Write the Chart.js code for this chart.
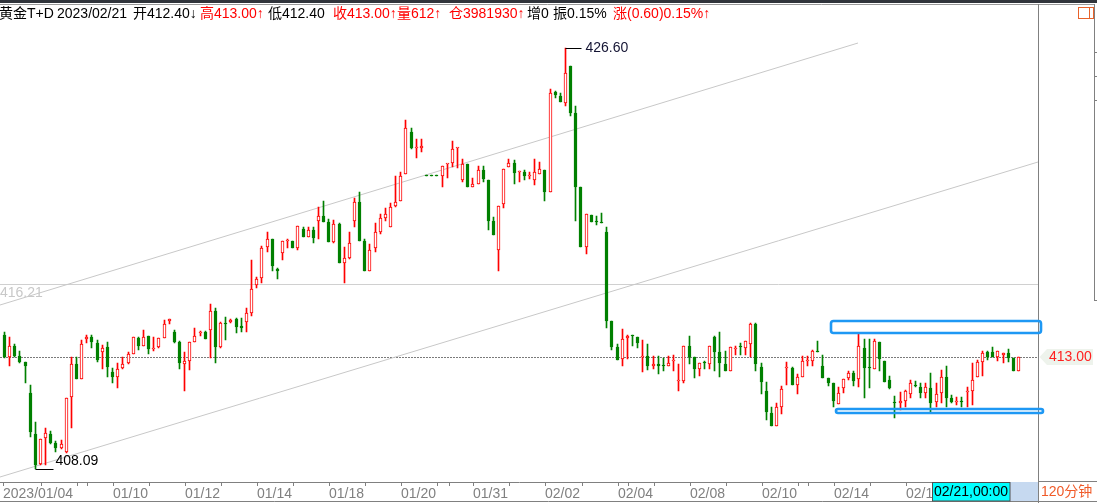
<!DOCTYPE html>
<html><head><meta charset="utf-8">
<script src="https://cdn.jsdelivr.net/npm/chart.js@4.4.1/dist/chart.umd.min.js"></script>
<style>
html,body{margin:0;padding:0;background:#fff;overflow:hidden}
canvas{display:block}
</style></head><body>
<canvas id="c" width="1097" height="503"></canvas>
<script>
// ---- data (120-minute bars, 黄金T+D) ----
const opens = [
413.99,413.01,413.51,413.07,412.80,411.43,409.64,408.31,409.45,409.64,
409.23,409.01,408.86,411.25,412.70,412.04,413.80,413.91,413.65,413.23,
413.45,412.35,412.13,412.53,412.75,413.14,413.84,413.52,413.95,413.39,
413.47,413.84,414.62,414.11,413.69,412.70,412.86,413.67,414.06,414.11,
414.21,415.03,413.46,414.50,414.55,414.69,414.38,414.55,414.94,416.19,
416.48,417.87,418.21,416.89,417.58,418.11,418.12,417.83,418.64,418.31,
418.60,419.01,419.22,418.96,418.09,418.87,417.14,417.39,419.01,419.82,
418.12,416.82,417.80,418.53,419.12,418.72,419.66,419.89,421.05,422.90,
422.22,422.22,420.98,420.98,420.98,420.99,421.49,421.54,422.20,420.80,
421.49,420.51,420.63,421.24,420.80,419.01,417.73,419.73,421.39,421.54,
421.14,421.14,420.99,420.80,421.07,421.24,420.29,424.66,424.51,424.20,
425.81,423.73,420.51,417.84,419.26,419.00,418.90,418.50,414.60,413.45,
412.92,413.84,413.95,413.89,413.03,413.07,412.64,412.70,412.63,412.64,
412.84,411.96,411.98,413.51,413.01,412.48,412.75,412.70,413.89,413.23,
412.70,412.42,413.36,413.45,413.40,413.58,414.47,412.57,411.53,410.55,
410.00,410.81,412.52,412.53,411.79,412.16,412.84,412.86,413.29,412.63,
412.09,411.89,410.94,411.65,412.09,412.31,412.04,413.40,412.53,412.49,
413.69,412.86,412.01,410.99,410.99,411.09,411.38,411.76,411.72,411.43,
411.65,411.03,411.43,412.13,411.23,411.05,411.06,411.49,411.54,412.16,
412.82,413.23,413.23,413.01,413.11,413.18,412.96,412.40];
const highs = [
414.13,413.91,413.59,413.29,412.80,411.79,410.18,409.40,409.91,409.77,
409.34,409.37,411.23,413.04,413.01,413.77,413.99,413.99,413.77,413.55,
413.69,412.53,412.75,413.01,413.25,413.91,413.91,414.21,413.95,413.91,
413.84,414.65,414.71,414.21,413.74,413.23,413.69,414.31,414.16,414.16,
415.34,415.16,414.55,414.79,414.69,414.75,414.72,415.16,417.29,416.55,
417.90,418.53,418.21,416.93,418.12,418.21,418.12,418.78,418.75,418.72,
418.72,419.60,419.88,419.07,419.04,418.90,417.87,418.53,420.00,420.26,
418.21,417.98,418.90,419.31,419.58,419.80,420.99,421.14,423.44,423.07,
422.60,422.60,420.98,420.98,420.98,421.42,421.50,422.52,422.22,421.73,
421.49,420.88,421.42,421.42,420.80,419.19,419.67,421.27,421.73,421.68,
421.21,421.24,421.14,421.73,421.61,421.24,424.79,424.71,424.64,426.60,
425.81,424.06,420.51,419.29,419.26,419.23,419.34,418.74,414.60,413.59,
414.25,413.99,413.99,413.89,413.77,413.59,413.07,413.07,412.96,413.07,
413.11,412.71,413.51,413.95,413.01,412.75,412.85,413.51,413.96,414.13,
413.30,413.45,413.51,413.62,413.73,414.50,414.50,412.75,411.94,410.84,
410.99,411.75,412.82,412.60,412.27,413.08,413.07,413.33,413.74,413.11,
412.09,411.89,411.69,412.05,412.41,412.42,414.02,413.80,413.80,413.80,
413.69,412.86,412.19,411.31,411.48,411.57,412.01,411.97,411.87,411.87,
412.31,411.87,412.45,412.63,411.35,411.28,411.28,411.72,412.77,412.89,
413.30,413.30,413.45,413.29,413.18,413.37,412.96,413.00];
const lows = [
412.96,412.64,413.01,412.75,411.87,409.52,408.09,408.27,408.27,409.20,
408.86,408.98,408.79,409.91,412.04,412.04,413.62,413.43,412.82,412.49,
412.16,411.87,411.65,412.49,412.71,413.14,413.33,413.52,413.14,413.30,
413.43,413.84,414.46,413.65,412.49,411.54,412.45,413.67,413.95,413.81,
412.99,412.75,413.43,413.77,414.50,414.09,414.11,414.13,414.84,416.04,
416.26,417.65,416.82,416.44,417.29,417.80,417.83,417.73,418.31,418.31,
418.02,418.21,418.97,418.09,418.02,417.14,416.29,417.34,418.72,418.13,
416.82,416.82,417.65,418.43,419.01,418.72,419.63,419.89,421.05,422.16,
421.78,422.02,420.98,420.98,420.98,420.51,420.88,421.39,421.32,420.73,
420.51,420.51,420.63,420.73,418.60,418.38,416.82,419.58,421.39,420.63,
420.73,420.80,420.85,420.58,421.07,419.89,420.29,424.42,424.24,424.07,
423.63,419.01,417.84,417.54,418.94,418.82,418.89,414.31,413.33,412.89,
412.64,412.92,413.51,413.43,412.38,412.45,412.49,412.27,412.41,412.64,
412.41,411.54,411.89,412.71,412.11,412.20,412.49,412.49,412.42,412.13,
412.42,412.42,413.11,413.11,413.11,413.01,412.41,411.40,410.25,410.00,
410.00,410.52,411.79,411.79,411.40,412.16,412.63,412.63,413.23,412.09,
411.75,410.84,410.94,411.45,412.01,411.75,411.72,411.23,411.65,412.49,
412.41,411.94,411.62,410.35,410.69,410.84,411.21,411.72,411.23,411.21,
410.62,410.84,411.01,410.84,410.99,410.91,410.84,410.84,410.91,412.16,
412.19,412.89,413.01,412.86,412.77,412.82,412.42,412.40];
const closes = [
413.01,413.51,413.08,412.80,412.63,409.74,408.27,409.40,409.67,409.23,
409.01,409.18,411.21,412.70,412.04,413.59,413.89,413.67,412.89,413.40,
412.60,412.13,412.48,412.70,413.14,413.89,413.52,413.91,413.39,413.40,
413.84,414.46,414.71,413.69,412.77,412.85,413.67,413.96,414.07,413.83,
415.03,413.47,414.50,414.49,414.65,414.35,414.31,414.94,416.00,416.45,
417.80,418.21,417.04,416.82,418.12,418.12,417.83,418.78,418.31,418.60,
418.27,419.22,418.97,418.09,418.86,417.14,417.36,418.02,419.82,418.13,
416.82,417.73,418.53,419.12,419.31,419.60,419.85,420.99,423.07,422.22,
422.23,422.28,420.98,420.98,420.98,421.42,421.50,422.16,422.22,421.49,
420.51,420.63,421.24,420.85,419.01,418.38,419.67,421.27,421.54,421.10,
421.15,420.99,421.00,421.14,421.27,420.29,424.61,424.54,424.24,425.49,
423.73,420.51,417.84,419.29,418.94,418.94,418.89,414.62,413.47,412.89,
413.80,413.95,413.94,413.62,413.04,412.64,412.70,412.64,412.62,412.77,
412.85,411.97,413.51,413.01,412.48,412.75,412.74,413.51,413.25,412.75,
412.42,413.45,413.37,413.44,413.73,414.47,412.70,411.94,410.62,410.00,
410.81,411.62,412.53,411.79,412.13,412.85,412.85,413.29,413.23,412.09,
411.89,411.10,411.45,412.05,412.31,411.98,413.51,412.53,412.52,413.74,
412.92,411.94,411.67,410.98,411.09,411.54,411.87,411.75,411.43,411.69,
410.99,411.38,412.13,411.23,411.03,411.06,411.05,411.50,412.01,412.79,
413.18,413.01,413.01,413.29,413.18,412.96,412.42,413.00];

// x-axis ticks (bar index) and their labels
const tickValues = [-0.2,7.2,14.2,16.1,21.2,28.2,35.2,42.2,49.2,56.2,63.2,70.2,77.2,84.2,86.4,91.2,98.2,
  105.2,112.2,119.2,121.3,126.2,133.2,140.2,147.2,154.2,156.2,161.2,168.2,175.2,182.2,189.2,196.2];
const tickTexts  = {'-0.2':'2023/01/04','21.2':'01/10','35.2':'01/12','49.2':'01/14','63.2':'01/18',
  '77.2':'01/20','91.2':'01/31','105.2':'02/02','119.2':'02/04','133.2':'02/08','147.2':'02/10',
  '161.2':'02/14','175.2':'02/16','189.2':'02/20'};

// drawn lines (channel) in [index, price]
const channelUpper = [[-0.777,415.32],[165.98,426.81]];
const channelLower = [[-0.777,407.73],[200.89,421.61]];
const refLevel = 416.21;
const lastPrice = 413.00;
// boxes drawn by the user: [x0, x1, priceTop, priceBottom]
const boxes = [[160.75,201.53,414.62,414.08],[161.72,201.81,410.75,410.55]];

const headerTexts = ['黄金T+D','2023/02/21','开412.40↓','高413.00↑','低412.40','收413.00↑','量612↑','仓3981930↑','增0','振0.15%','涨(0.60)0.15%↑'];
const headerUp    = [false,false,false,true,false,true,true,true,false,false,true];
const cursorTime = '02/21,00:00';
const periodText = '120分钟';

// ---- rendering ----
const RED = '#ff0000', GREEN = '#008000';
const FONT = '"Liberation Sans","Noto Sans CJK SC",sans-serif';
const up = closes.map((c, i) => c > opens[i]);
const bodyData = closes.map((c, i) => ({x: i, y: [opens[i], c]}));
const wickData = closes.map((c, i) => ({x: i, y: [lows[i], highs[i]]}));

const crisp = {
  id: 'crisp',
  beforeDatasetDraw(chart, args) { if (args.index < 2) { chart.ctx.save(); chart.ctx.translate(0.5, 0); } },
  afterDatasetDraw(chart, args) { if (args.index < 2) chart.ctx.restore(); }
};

const overlay = {
  id: 'overlay',
  beforeDatasetsDraw(chart) {
    const {ctx, chartArea: a, scales: {y}} = chart;
    ctx.save();
    const yr = y.getPixelForValue(refLevel) + 0.5;
    ctx.strokeStyle = '#d0d0d0'; ctx.lineWidth = 1;
    ctx.beginPath(); ctx.moveTo(a.left, yr); ctx.lineTo(a.right, yr); ctx.stroke();
    ctx.font = '14px ' + FONT; ctx.fillStyle = '#c8c8c8'; ctx.textBaseline = 'middle'; ctx.textAlign = 'left';
    ctx.fillText(refLevel.toFixed(2), a.left, yr + 9);
    const yl = y.getPixelForValue(lastPrice) + 0.5;
    ctx.strokeStyle = '#7a7a7a'; ctx.setLineDash([2, 1]);
    ctx.beginPath(); ctx.moveTo(a.left, yl); ctx.lineTo(a.right, yl); ctx.stroke();
    ctx.restore();
  },
  afterDraw(chart) {
    const {ctx, scales: {x, y}} = chart;
    const W = chart.width, H = chart.height;
    ctx.save();
    // frame
    ctx.fillStyle = '#30343b'; ctx.fillRect(0, 0, W, 3);
    ctx.strokeStyle = '#9a9a9a'; ctx.lineWidth = 1;
    ctx.beginPath(); ctx.moveTo(0, 4.5); ctx.lineTo(1095, 4.5); ctx.stroke();
    ctx.strokeStyle = '#808080';
    ctx.beginPath(); ctx.moveTo(1038.5, 4); ctx.lineTo(1038.5, H); ctx.stroke();
    ctx.beginPath(); ctx.moveTo(1094.5, 4); ctx.lineTo(1094.5, 300); ctx.stroke();
    [52.5, 76.5, 100.5, 300.5].forEach(t => { ctx.beginPath(); ctx.moveTo(1094, t); ctx.lineTo(1097, t); ctx.stroke(); });
    ctx.beginPath(); ctx.moveTo(1038, 481.5); ctx.lineTo(W, 481.5); ctx.stroke();
    ctx.beginPath(); ctx.moveTo(0, 501.5); ctx.lineTo(W, 501.5); ctx.stroke();
    // header
    const hx = [-1, 57, 133, 200, 268, 333, 397, 449, 527, 553, 613];
    ctx.font = '14px ' + FONT; ctx.textBaseline = 'middle'; ctx.textAlign = 'left';
    headerTexts.forEach((t, i) => { ctx.fillStyle = headerUp[i] ? RED : '#000'; ctx.fillText(t, hx[i], 14); });
    // icon
    ctx.strokeStyle = '#e8622a';
    ctx.strokeRect(1078.5, 7.5, 15, 11);
    ctx.beginPath(); ctx.moveTo(1089.5, 7.5); ctx.lineTo(1089.5, 18.5); ctx.stroke();
    // max / min markers
    let iMax = 0, iMin = 0;
    highs.forEach((h, i) => { if (h > highs[iMax]) iMax = i; });
    lows.forEach((l, i) => { if (l < lows[iMin]) iMin = i; });
    ctx.strokeStyle = '#000'; ctx.lineWidth = 1;
    let px = x.getPixelForValue(iMax) + 0.5, py = y.getPixelForValue(highs[iMax]) + 0.5;
    ctx.beginPath(); ctx.moveTo(px, py); ctx.lineTo(px + 16, py); ctx.stroke();
    ctx.fillStyle = '#141433'; ctx.fillText(highs[iMax].toFixed(2), px + 20, py);
    px = x.getPixelForValue(iMin) + 0.5; py = y.getPixelForValue(lows[iMin]) + 0.5;
    ctx.beginPath(); ctx.moveTo(px, py); ctx.lineTo(px + 18, py); ctx.stroke();
    ctx.fillStyle = '#000'; ctx.fillText(lows[iMin].toFixed(2), px + 20, py - 8);
    // boxes
    ctx.strokeStyle = '#1e98f4'; ctx.lineWidth = 2.6;
    boxes.forEach(b => {
      const x0 = x.getPixelForValue(b[0]), x1 = x.getPixelForValue(b[1]);
      const y0 = y.getPixelForValue(b[2]), y1 = y.getPixelForValue(b[3]);
      ctx.beginPath(); ctx.roundRect(x0, y0, x1 - x0, y1 - y0, 2.5); ctx.stroke();
    });
    // last price tag
    const yl = y.getPixelForValue(lastPrice);
    ctx.fillStyle = '#eef3ec';
    ctx.beginPath(); ctx.moveTo(1039.5, yl); ctx.lineTo(1047, yl - 8); ctx.lineTo(1093, yl - 8);
    ctx.lineTo(1093, yl + 8); ctx.lineTo(1047, yl + 8); ctx.closePath(); ctx.fill();
    ctx.fillStyle = '#ff2020'; ctx.font = '14px ' + FONT;
    ctx.fillText(lastPrice.toFixed(2), 1049, yl + 0.5);
    // bottom cursor time box
    ctx.fillStyle = '#c6d9f0'; ctx.fillRect(1010, 482, 28, 19);
    ctx.fillStyle = '#00ffff'; ctx.fillRect(932.5, 482, 77.5, 19);
    ctx.strokeStyle = '#505050'; ctx.lineWidth = 1; ctx.strokeRect(932.5, 482.5, 77.5, 18.5);
    ctx.fillStyle = '#000'; ctx.fillText(cursorTime, 934, 492);
    ctx.fillStyle = '#f05a28'; ctx.fillText(periodText, 1041, 492);
    ctx.restore();
  }
};

new Chart(document.getElementById('c'), {
  type: 'bar',
  data: { datasets: [
    { label: 'body', data: bodyData, order: 0, grouped: false, barThickness: 3, borderWidth: 1,
      borderSkipped: false, minBarLength: 1,
      backgroundColor: c => up[c.dataIndex] ? '#ffffff' : GREEN,
      borderColor: c => up[c.dataIndex] ? RED : GREEN },
    { label: 'wick', data: wickData, order: 1, grouped: false, barThickness: 1, borderWidth: 0,
      minBarLength: 1, backgroundColor: c => up[c.dataIndex] ? RED : GREEN },
    { type: 'line', label: 'upper', order: 3, data: channelUpper.map(p => ({x: p[0], y: p[1]})),
      borderColor: '#c8c8c8', borderWidth: 1, pointRadius: 0 },
    { type: 'line', label: 'lower', order: 3, data: channelLower.map(p => ({x: p[0], y: p[1]})),
      borderColor: '#c8c8c8', borderWidth: 1, pointRadius: 0 }
  ]},
  options: {
    responsive: false, animation: false, events: [],
    layout: { padding: { left: 0, right: 59, top: 4, bottom: 0 } },
    plugins: { legend: { display: false }, tooltip: { enabled: false } },
    scales: {
      x: { type: 'linear', min: -0.777, max: 200.89, offset: false, alignToPixels: true,
        afterBuildTicks: ax => { ax.ticks = tickValues.map(v => ({ value: v })); },
        afterFit: ax => { ax.height = 21; },
        ticks: { autoSkip: false, maxRotation: 0, minRotation: 0, align: 'start', padding: 0,
          color: '#808080', font: { family: FONT, size: 14 },
          callback: v => tickTexts[String(v)] || '' },
        grid: { drawOnChartArea: false, drawTicks: true, tickLength: 4, color: '#808080', offset: false },
        border: { display: true, color: '#808080', width: 1 } },
      y: { display: false, min: 407.527, max: 428.538, alignToPixels: true }
    }
  },
  plugins: [crisp, overlay]
});
</script>
</body></html>
